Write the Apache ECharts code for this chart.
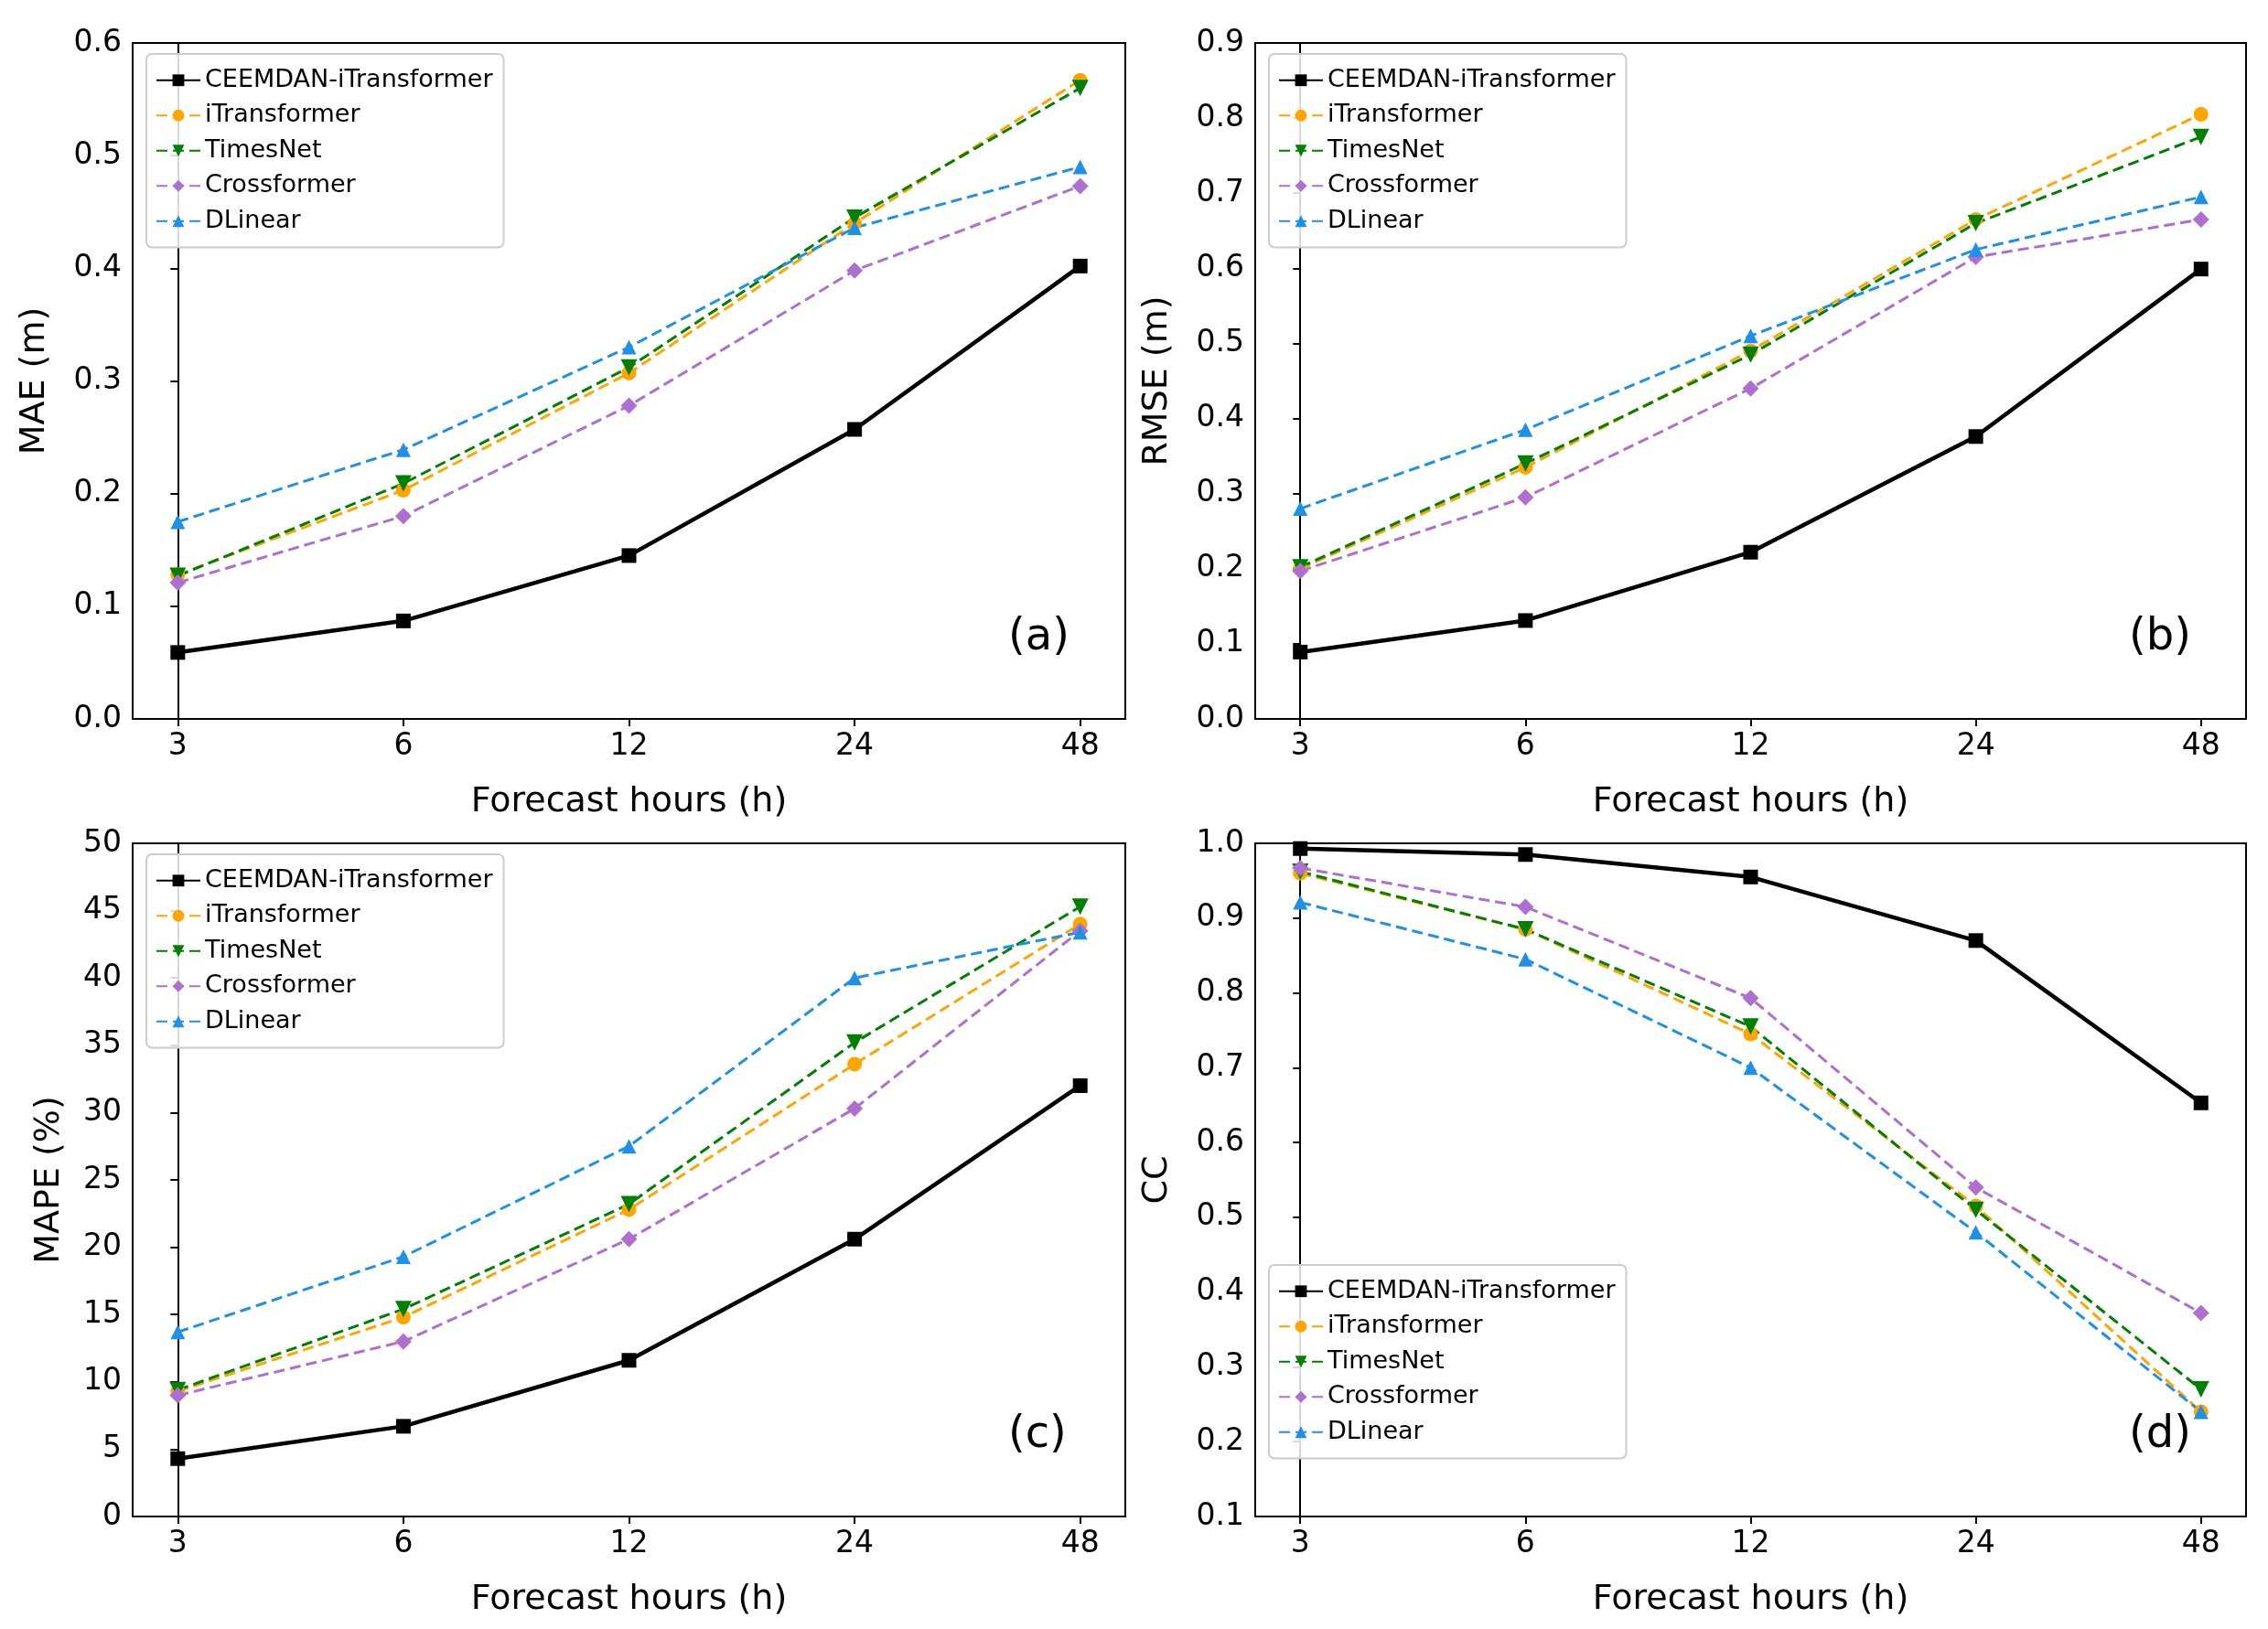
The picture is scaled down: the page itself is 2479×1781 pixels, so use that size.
<!DOCTYPE html>
<html><head><meta charset="utf-8">
<script src="https://cdn.jsdelivr.net/npm/echarts@6/dist/echarts.min.js"></script>
<style>html,body{margin:0;background:#fff}#c{width:2479px;height:1781px}</style>
</head><body><div id="c"></div>
<script>
const hours = ['3','6','12','24','48'];
const seriesNames = ['CEEMDAN-iTransformer','iTransformer','TimesNet','Crossformer','DLinear'];
const maeCEEMDAN = [0.059,0.087,0.145,0.257,0.402];
const maeITrans = [0.128,0.203,0.307,0.440,0.567];
const maeTimes = [0.127,0.209,0.312,0.445,0.560];
const maeCross = [0.121,0.180,0.278,0.398,0.473];
const maeDLin = [0.175,0.239,0.330,0.436,0.490];
const rmseCEEMDAN = [0.089,0.131,0.222,0.376,0.599];
const rmseITrans = [0.200,0.335,0.490,0.665,0.805];
const rmseTimes = [0.202,0.340,0.485,0.660,0.775];
const rmseCross = [0.197,0.295,0.440,0.615,0.665];
const rmseDLin = [0.280,0.385,0.510,0.625,0.695];
const mapeCEEMDAN = [4.3,6.7,11.6,20.6,32.0];
const mapeITrans = [9.3,14.8,22.8,33.6,44.0];
const mapeTimes = [9.4,15.4,23.2,35.2,45.3];
const mapeCross = [9.0,13.0,20.6,30.3,43.5];
const mapeDLin = [13.7,19.3,27.5,40.0,43.4];
const ccCEEMDAN = [0.993,0.985,0.955,0.870,0.653];
const ccITrans = [0.960,0.885,0.745,0.515,0.240];
const ccTimes = [0.962,0.885,0.755,0.510,0.270];
const ccCross = [0.967,0.915,0.793,0.540,0.372];
const ccDLin = [0.921,0.845,0.700,0.480,0.240];

const colors = ['#000000','#FFA500','#008000','#AE6FD0','#1E90E8'];
const symbols = ['rect','circle','triangle','diamond','triangle'];
const rots = [0,0,180,0,0];
const sizes = [16,16,18,18,16];

const panels = [
  {name:'MAE (m)', min:0, max:0.6, interval:0.1, dec:1, data:[maeCEEMDAN,maeITrans,maeTimes,maeCross,maeDLin], label:'(a)', legendTop:true},
  {name:'RMSE (m)', min:0, max:0.9, interval:0.1, dec:1, data:[rmseCEEMDAN,rmseITrans,rmseTimes,rmseCross,rmseDLin], label:'(b)', legendTop:true},
  {name:'MAPE (%)', min:0, max:50, interval:5, dec:0, data:[mapeCEEMDAN,mapeITrans,mapeTimes,mapeCross,mapeDLin], label:'(c)', legendTop:true},
  {name:'CC', min:0.1, max:1.0, interval:0.1, dec:1, data:[ccCEEMDAN,ccITrans,ccTimes,ccCross,ccDLin], label:'(d)', legendTop:false}
];
const gridPos = [
  {left:145, top:47, width:1085, height:739},
  {left:1372, top:47, width:1083, height:739},
  {left:145, top:922, width:1085, height:736},
  {left:1372, top:922, width:1083, height:736}
];
const font = 'DejaVu Sans';
const option = {backgroundColor:'#fff', animation:false, grid:[], xAxis:[], yAxis:[], series:[], legend:[], graphic:[]};
panels.forEach((p,i)=>{
  const g = gridPos[i];
  option.grid.push(Object.assign({containLabel:false}, g));
  option.xAxis.push({type:'value', gridIndex:i, min:-0.2, max:4.2,
    name:'Forecast hours (h)', nameLocation:'middle', nameGap:72,
    nameTextStyle:{fontSize:38, fontFamily:font, color:'#000'},
    axisLine:{onZero:false, lineStyle:{color:'#000', width:2}},
    axisTick:{show:true, customValues:[0,1,2,3,4], length:8, lineStyle:{color:'#000', width:2}},
    axisLabel:{customValues:[0,1,2,3,4], formatter:v=>hours[Math.round(v)], fontSize:33, fontFamily:font, color:'#000', margin:14},
    splitLine:{show:false}});
  option.yAxis.push({type:'value', gridIndex:i, min:p.min, max:p.max, interval:p.interval,
    name:p.name, nameLocation:'middle', nameGap:p.dec? 88:72, nameRotate:90,
    nameTextStyle:{fontSize:38, fontFamily:font, color:'#000'},
    axisLine:{show:true, lineStyle:{color:'#000', width:2}},
    axisTick:{show:true, length:8, lineStyle:{color:'#000', width:2}},
    axisLabel:{formatter:v=>v.toFixed(p.dec), fontSize:33, fontFamily:font, color:'#000', margin:12},
    splitLine:{show:false}});
  // right/top frame
  option.graphic.push({type:'rect', shape:{x:g.left, y:g.top, width:g.width, height:g.height}, style:{fill:'none', stroke:'#000', lineWidth:2}, z:1, silent:true});
  option.graphic.push({type:'text', left:g.left+g.width-128, top:g.top+g.height-112, style:{text:p.label, font:'48px "DejaVu Sans"', fill:'#000'}});
  const names = seriesNames.map(n=>n+'#'+i);
  p.data.forEach((d,k)=>{
    option.series.push({type:'line', name:names[k], xAxisIndex:i, yAxisIndex:i,
      data:d.map((v,j)=>[j,v]), symbol:symbols[k], symbolRotate:rots[k], symbolSize:sizes[k],
      color:colors[k], itemStyle:{color:colors[k]},
      lineStyle:{color:colors[k], width:k===0?4.5:3, type:k===0?'solid':[12,6]}, z:k===0?5:3});
  });
  const lh = 39.5;
  option.legend.push({data:names, orient:'vertical', left:g.left+15,
    top: p.legendTop ? g.top+12 : g.top+g.height-275,
    itemGap:1, itemWidth:48, itemHeight:16, padding:[10,12,10,10],
    formatter:n=>n.split('#')[0],
    textStyle:{fontSize:27, fontFamily:font, color:'#000', lineHeight:lh, height:lh-2},
    borderColor:'#ccc', borderWidth:2, borderRadius:6, backgroundColor:'rgba(255,255,255,0.85)'});
});
const chart = echarts.init(document.getElementById('c'), null, {renderer:'canvas'});
chart.setOption(option);
</script></body></html>
